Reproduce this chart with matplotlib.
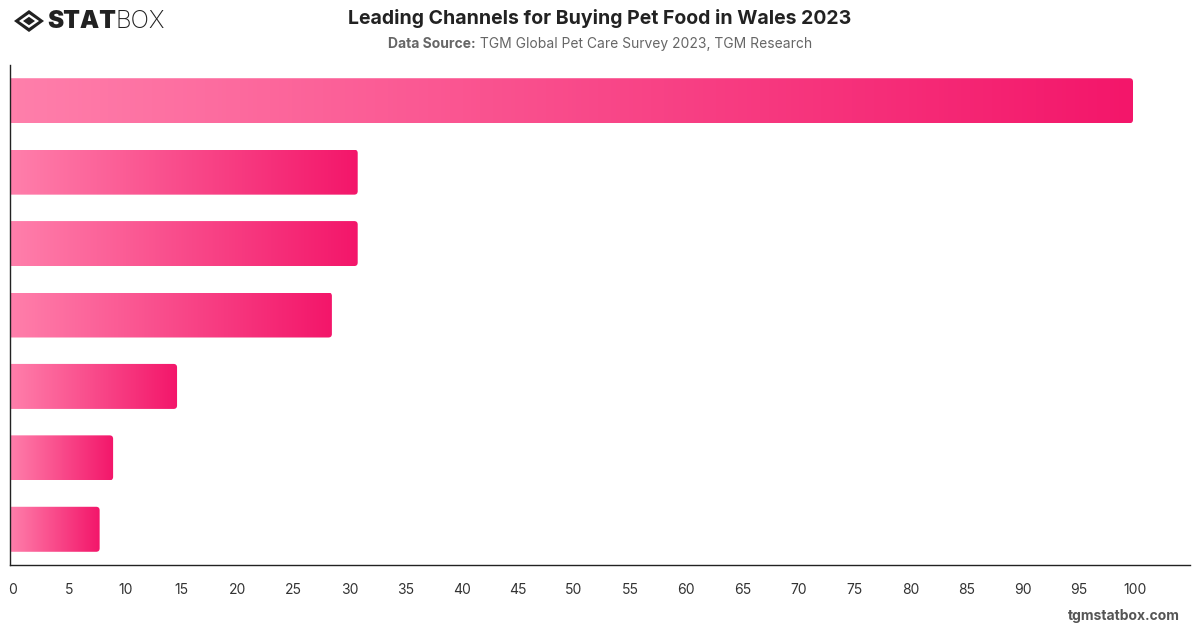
import matplotlib
matplotlib.use("Agg")
import matplotlib.pyplot as plt
import matplotlib.transforms as mtransforms
import numpy as np
from matplotlib.patches import FancyBboxPatch, Polygon
from matplotlib.colors import LinearSegmentedColormap

plt.rcParams['font.family'] = ['Inter', 'DejaVu Sans']

# Data (category names are not shown in the reference)
categories = ["Channel 1", "Channel 2", "Channel 3", "Channel 4", "Channel 5", "Channel 6", "Channel 7"]
values = [100, 30.9, 30.9, 28.6, 14.8, 9.1, 7.9]
xticks = list(range(0, 101, 5))

title = "Leading Channels for Buying Pet Food in Wales 2023"
source_bold = "Data Source:"
source_text = " TGM Global Pet Care Survey 2023, TGM Research"

W, H = 1200, 628
fig = plt.figure(figsize=(W / 100, H / 100), dpi=100)
fig.patch.set_facecolor("white")

ax_l, ax_r, ax_t, ax_b = 10, 1190, 65, 565
ax = fig.add_axes([ax_l / W, 1 - ax_b / H, (ax_r - ax_l) / W, (ax_b - ax_t) / H])

scale = 11.22
x0v = -1.0 / scale
xmax = x0v + (ax_r - ax_l) / scale

cmap = LinearSegmentedColormap.from_list("pinkgrad", ["#FF7FAB", "#F3166A"])
grad = np.linspace(0, 1, 256).reshape(1, -1)
bar_h = 0.63
px_x = 1 / scale
px_y = len(values) / (ax_b - ax_t)
r = 3.5 * px_x
aspect = (3.5 * px_y) / r

for i, v in enumerate(values):
    y0 = i - bar_h / 2
    patch = FancyBboxPatch((-2, y0), v + 2, bar_h,
                           boxstyle=f"round,pad=0,rounding_size={r}",
                           mutation_aspect=aspect,
                           facecolor="none", edgecolor="none", transform=ax.transData)
    ax.add_patch(patch)
    im = ax.imshow(grad, cmap=cmap, aspect="auto", extent=(x0v, v, i + bar_h / 2, y0),
                   interpolation="bilinear", zorder=2)
    im.set_clip_path(patch)

ax.set_xlim(x0v, xmax)
ax.set_ylim(len(values) - 0.5, -0.5)

ax.set_xticks(xticks)
ax.set_xticklabels([str(t) for t in xticks], fontsize=10, color="#333333")
ax.tick_params(axis="x", length=0, pad=13)
offset = mtransforms.ScaledTranslation(2 / 100, 0, fig.dpi_scale_trans)
for lab in ax.get_xticklabels():
    lab.set_transform(lab.get_transform() + offset)
ax.set_yticks([])
for s in ["top", "right"]:
    ax.spines[s].set_visible(False)
for s in ["left", "bottom"]:
    ax.spines[s].set_color("#222222")
    ax.spines[s].set_linewidth(1.0)

# Title and subtitle
fig.text(600 / W, 1 - 18 / H, title, ha="center", va="center", fontsize=14,
         fontweight="bold", color="#222222")
t1 = fig.text(0, 0, source_bold, fontsize=10, fontweight="bold", color="#666666")
t2 = fig.text(0, 0, source_text, fontsize=10, color="#666666")
fig.canvas.draw()
rend = fig.canvas.get_renderer()
w1 = t1.get_window_extent(rend).width
w2 = t2.get_window_extent(rend).width
sx = 600 - (w1 + w2) / 2
t1.set_position((sx / W, 1 - 44 / H)); t1.set_va("center")
t2.set_position(((sx + w1) / W, 1 - 44 / H)); t2.set_va("center")

# Logo
cx, cy = 29, 21
outer = Polygon([(cx - 15, cy), (cx, cy - 11), (cx + 15, cy), (cx, cy + 11)], closed=True,
                facecolor="#222222", edgecolor="none", transform=None)
inner_w = Polygon([(cx - 10, cy), (cx, cy - 7), (cx + 10, cy), (cx, cy + 7)], closed=True,
                  facecolor="white", edgecolor="none", transform=None)
inner = Polygon([(cx - 6, cy), (cx, cy - 4.2), (cx + 6, cy), (cx, cy + 4.2)], closed=True,
                facecolor="#222222", edgecolor="none", transform=None)
for p in (outer, inner_w, inner):
    xy = p.get_xy()
    xy[:, 1] = H - xy[:, 1]
    p.set_xy(xy)
    fig.patches.append(p)
ls = fig.text(47 / W, 1 - 21 / H, "STAT", fontsize=17.5, fontweight="black", color="#222222",
              va="center", ha="left")
fig.canvas.draw()
wl = ls.get_window_extent(fig.canvas.get_renderer()).width
fig.text((47 + wl) / W, 1 - 21 / H, "BOX", fontsize=17.5, fontweight="light", color="#222222",
         va="center", ha="left")

fig.text(1180 / W, 1 - 616 / H, "tgmstatbox.com", ha="right", va="center", fontsize=10,
         fontweight="bold", color="#555555")

fig.savefig("out.png", dpi=100, facecolor="white")
